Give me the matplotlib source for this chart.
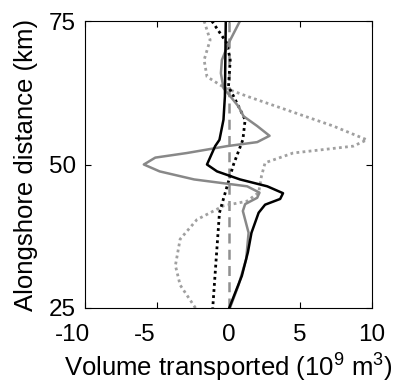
import matplotlib
matplotlib.use('Agg')
import matplotlib.pyplot as plt
from matplotlib.transforms import ScaledTranslation

plt.rcParams['font.family'] = ['Liberation Sans', 'DejaVu Sans']
plt.rcParams['axes.unicode_minus'] = False
plt.rcParams['mathtext.fontset'] = 'custom'
plt.rcParams['mathtext.rm'] = 'Liberation Sans'

# Volume transported (10^9 m^3) against alongshore distance (km)
black_solid_y = [75.0, 61.9, 57.8, 54.3, 53.2, 50.0, 48.8, 47.4, 46.2, 45.0, 44.0, 43.0, 41.6, 38.1, 34.7, 30.6, 25.0]
black_solid_x = [-0.19, -0.25, -0.35, -0.63, -0.93, -1.5, -0.8, 0.8, 2.7, 3.8, 3.6, 2.55, 2.1, 1.6, 1.35, 0.93, 0.05]

gray_solid_y = [75.0, 71.1, 68.2, 65.9, 63.3, 61.9, 60.1, 58.4, 56.7, 55.0, 53.9, 53.2, 52.0, 51.2, 50.0, 48.8, 47.4, 46.2, 45.1, 44.2, 43.1, 41.9, 38.1, 33.5, 29.0, 25.0]
gray_solid_x = [0.8, 0.0, -0.46, -0.53, -0.35, 0.12, 0.7, 1.05, 2.0, 2.86, 2.0, -0.1, -2.9, -5.1, -5.9, -4.8, -2.4, 1.3, 2.16, 2.0, 1.16, 1.0, 1.4, 1.23, 0.7, 0.1]

black_dot_y = [75.0, 71.1, 68.2, 63.6, 61.9, 57.8, 54.3, 50.0, 46.2, 41.6, 33.5, 25.0]
black_dot_x = [-1.16, -0.1, 0.12, 0.0, 0.35, 1.16, 1.0, 0.35, -0.1, -0.63, -0.86, -1.1]

gray_dot_y = [75.0, 71.7, 68.2, 65.3, 63.3, 61.9, 59.5, 56.7, 54.3, 53.2, 52.0, 50.3, 48.0, 45.1, 43.6, 42.8, 40.4, 37.0, 32.4, 29.0, 25.0]
gray_dot_x = [-1.7, -1.28, -1.7, -1.5, -0.23, 1.28, 4.06, 7.3, 9.64, 8.7, 4.5, 2.55, 2.3, 2.1, 1.28, -0.35, -2.2, -3.37, -3.7, -3.37, -2.3]

x_ticks = [-10, -5, 0, 5, 10]
y_ticks = [25, 50, 75]

fig = plt.figure(figsize=(3.97, 3.84), dpi=100)
ax = fig.add_axes([85 / 397, 1 - 308 / 384, 287 / 397, 287 / 384])

ax.plot([0, 0], [25, 75], color='#909090', linestyle=(0, (4, 2.5)), linewidth=1.8)
ax.plot(gray_dot_x, gray_dot_y, color='#a0a0a0', linestyle=(0, (1, 1.2)), linewidth=2.0)
ax.plot(black_dot_x, black_dot_y, color='black', linestyle=(0, (1, 1.2)), linewidth=2.0)
ax.plot(gray_solid_x, gray_solid_y, color='#888888', linewidth=1.8)
ax.plot(black_solid_x, black_solid_y, color='black', linewidth=1.8)

ax.set_xlim(-10, 10)
ax.set_ylim(25, 75)
ax.set_xticks(x_ticks)
ax.set_yticks(y_ticks)
ax.set_xticklabels([])
ax.tick_params(direction='in', top=True, right=True, labelsize=17.5, length=4, width=0.8)
ax.tick_params(axis='y', pad=6.5)
for sp in ax.spines.values():
    sp.set_linewidth(0.8)

# x tick labels: negative ones sit a little left of their tick
for v in x_ticks:
    dx = -12.5 if v < 0 else 0
    ax.text(v, 0, str(v), fontsize=17.5, ha='center', va='top',
            transform=ax.get_xaxis_transform() + ScaledTranslation(dx / 100, -16 / 100, fig.dpi_scale_trans))

ax.set_xlabel('Volume transported (10$^9$ m$^3$)', fontsize=18.5)
ax.xaxis.set_label_coords(0.5, -0.148)
ax.set_ylabel('Alongshore distance (km)', fontsize=18.5)
ax.yaxis.set_label_coords(-0.165, 0.5)

fig.savefig('out.png', dpi=100)
